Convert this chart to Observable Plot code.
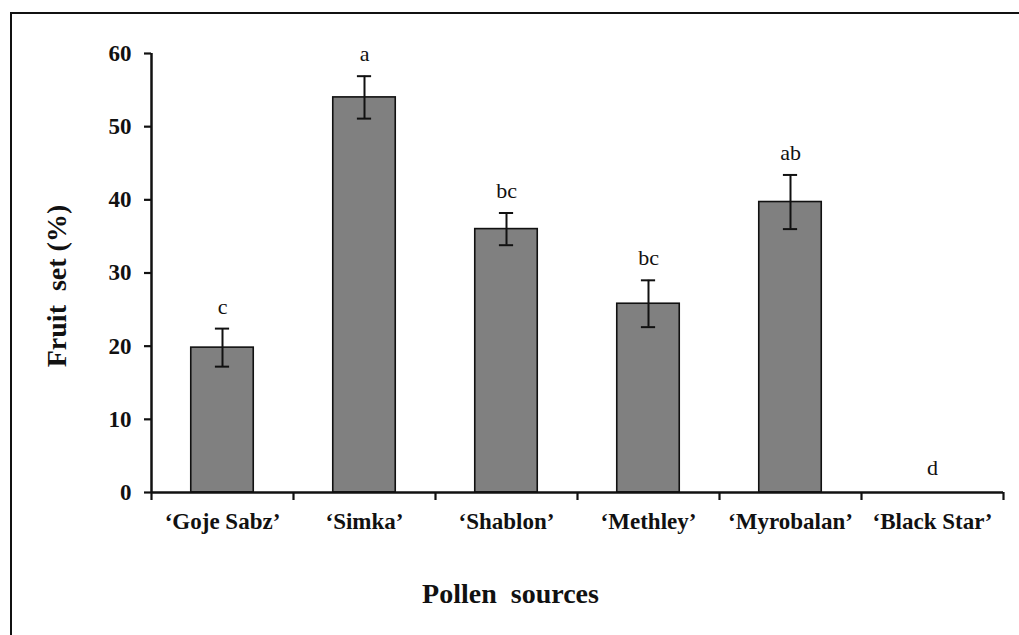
<!DOCTYPE html>
<html>
<head>
<meta charset="utf-8">
<script src="https://cdn.jsdelivr.net/npm/d3@7"></script>
<script src="https://cdn.jsdelivr.net/npm/@observablehq/plot@0.6"></script>
<style>
  html, body { margin: 0; padding: 0; background: #fff; }
  #wrap { position: relative; width: 1019px; height: 635px; overflow: hidden; }
  #frame { position: absolute; left: 10px; top: 12px; width: 1100px; height: 700px;
           border-top: 2px solid #111; border-left: 2px solid #111; box-sizing: border-box; }
  #chart { position: absolute; left: 0; top: 0; }
</style>
</head>
<body>
<div id="wrap"><div id="frame"></div><div id="chart"></div></div>
<script>
const categories = ["‘Goje Sabz’", "‘Simka’", "‘Shablon’", "‘Methley’", "‘Myrobalan’", "‘Black Star’"];
const means = [19.8, 54.0, 36.0, 25.8, 39.7, 0];
const errors = [2.6, 2.9, 2.2, 3.2, 3.7, 0];
const letters = ["c", "a", "bc", "bc", "ab", "d"];
const yTicks = [0, 10, 20, 30, 40, 50, 60];

const data = categories.map((c, i) => ({
  cat: c, i, mean: means[i], se: errors[i], letter: letters[i],
  lo: means[i] - errors[i], hi: means[i] + errors[i]
}));
const withErr = data.filter(d => d.se > 0);
const noErr = data.filter(d => d.se === 0);
const bounds = d3.range(categories.length + 1);
const centers = categories.map((c, i) => i + 0.5);

const font = "'Liberation Serif', 'Times New Roman', serif";

const chart = Plot.plot({
  width: 1019,
  height: 635,
  marginLeft: 151,
  marginRight: 16,
  marginTop: 53,
  marginBottom: 143,
  style: { fontFamily: font, background: "transparent", color: "#111" },
  x: { domain: [0, categories.length], axis: null },
  y: { domain: [0, 60], axis: null },
  marks: [
    Plot.rectY(data.filter(d => d.mean > 0), {
      x1: d => d.i + 0.5 - 0.22, x2: d => d.i + 0.5 + 0.22, y: "mean",
      fill: "#808080", stroke: "#111", strokeWidth: 1.6
    }),
    Plot.ruleX(withErr, { x: d => d.i + 0.5, y1: "lo", y2: "hi", stroke: "#111", strokeWidth: 2 }),
    Plot.ruleY(withErr, { y: "hi", x1: d => d.i + 0.45, x2: d => d.i + 0.55, stroke: "#111", strokeWidth: 2 }),
    Plot.ruleY(withErr, { y: "lo", x1: d => d.i + 0.45, x2: d => d.i + 0.55, stroke: "#111", strokeWidth: 2 }),
    Plot.text(withErr, {
      x: d => d.i + 0.5, y: "hi", text: "letter", dy: -15,
      lineAnchor: "bottom", fontSize: 22, fill: "#111"
    }),
    Plot.text(noErr, {
      x: d => d.i + 0.5, y: "hi", text: "letter", dy: -18,
      lineAnchor: "bottom", fontSize: 22, fill: "#111"
    }),
    // axes
    Plot.axisY({ ticks: yTicks, tickSize: 7, tickPadding: 13, fontSize: 23, fontWeight: "bold",
      strokeWidth: 2.2, label: null }),
    Plot.axisX({ ticks: bounds, tickSize: 8, tickFormat: () => "", strokeWidth: 2.2, label: null }),
    Plot.axisX({ ticks: centers, tickSize: 0, tickPadding: 20, fontSize: 23, fontWeight: "bold",
      tickFormat: v => categories[Math.round(v - 0.5)], label: null }),
    Plot.ruleX([0], { y1: 0, y2: 60, stroke: "#111", strokeWidth: 2.5 }),
    Plot.ruleY([0], { x1: 0, x2: categories.length, stroke: "#111", strokeWidth: 2.5 }),
    Plot.text(["Pollen\u00a0 sources"], { frameAnchor: "bottom", textAnchor: "middle", dx: -67, dy: 110, fontSize: 28, fontWeight: "bold", fill: "#111" }),
    Plot.text(["Fruit\u00a0 set (%)"], { frameAnchor: "left", textAnchor: "middle", dx: -94, dy: 13, rotate: -90, fontSize: 28, fontWeight: "bold", fill: "#111" })
  ]
});
document.getElementById("chart").appendChild(chart);
</script>
</body>
</html>
